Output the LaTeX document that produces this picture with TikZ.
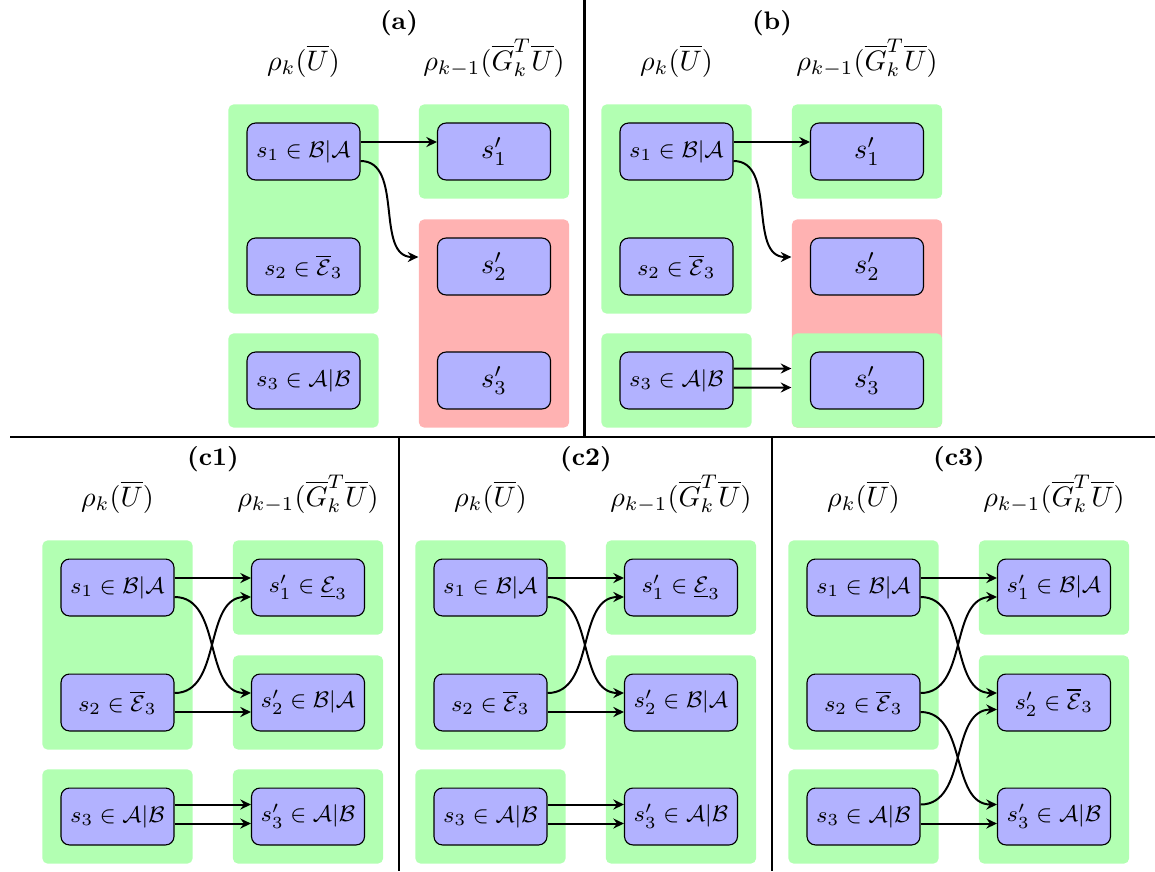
\documentclass[tikz,border=0pt]{standalone}
\usetikzlibrary{fit,backgrounds,calc,arrows.meta}
\tikzset{
  st/.style={draw=black, line width=0.4pt, fill=blue!30, rounded corners=3pt,
    minimum width=40.1pt, minimum height=20.2pt, inner sep=0pt,
    font=\fontsize{8}{10}\selectfont},
  stbig/.style={st, font=\fontsize{10}{12}\selectfont},
  grp/.style={fill=green!30, rounded corners=1.8pt, inner sep=6.4pt},
  bad/.style={fill=red!30, rounded corners=1.8pt, inner sep=6.4pt},
  arr/.style={-{Stealth[length=3.8pt,width=3.6pt,inset=1.3pt]}, line width=0.7pt},
  hdr/.style={anchor=base, font=\fontsize{10}{12}\selectfont},
  lbl/.style={anchor=base, font=\fontsize{9}{11}\selectfont\bfseries},
  sep/.style={line width=0.95pt}
}
\newcommand\Hl{$\rho_k(\overline{U})$}
\newcommand\Hr{$\rho_{k-1}(\overline{G}_k^T\overline{U})$}
\newcommand\SBA{$s_1\in\mathcal{B}|\mathcal{A}$}
\newcommand\SE{$s_2\in\overline{\mathcal{E}}_3$}
\newcommand\SAB{$s_3\in\mathcal{A}|\mathcal{B}$}
\begin{document}
\begin{tikzpicture}[x=0.355pt,y=-0.355pt]
\useasboundingbox (0,0) rectangle (1155,871);
\def\U{3.37pt}\def\D{-3.37pt}\def\UU{4.26pt}\def\DD{-2.49pt}

% ---------------- panel (a)
\begin{scope}
\node[lbl] (alab) at (399,29) {(a)};
\node[hdr] (ahl) at (303.5,70) {\Hl};
\node[hdr] (ahr) at (494,70) {\Hr};
\node[st] (as1) at (303.5,151.5) {\SBA};
\node[st] (as2) at (303.5,266.5) {\SE};
\node[st] (as3) at (303.5,380.5) {\SAB};
\node[stbig] (at1) at (494,151.5) {$s'_1$};
\node[stbig] (at2) at (494,266.5) {$s'_2$};
\node[stbig] (at3) at (494,380.5) {$s'_3$};
\begin{scope}[on background layer]
\node[grp, fit=(as1)(as2)] (ag12) {};
\node[grp, fit=(as3)] (ag3) {};
\node[grp, fit=(at1)] (agt1) {};
\node[bad, fit=(at2)(at3)] (ared) {};
\end{scope}
\draw[arr] ([yshift=\U]as1.east) -- ([yshift=\U]at1.west);
\draw[arr] ([yshift=\D]as1.east) to[out=0,in=180] ($(ared.west |- at2.west)+(0,-9.5)$);
\end{scope}

% ---------------- panel (b)
\begin{scope}[shift={(373,0)}]
\node[lbl] (blab) at (399,29) {(b)};
\node[hdr] (bhl) at (303.5,70) {\Hl};
\node[hdr] (bhr) at (494,70) {\Hr};
\node[st] (bs1) at (303.5,151.5) {\SBA};
\node[st] (bs2) at (303.5,266.5) {\SE};
\node[st] (bs3) at (303.5,380.5) {\SAB};
\node[stbig] (bt1) at (494,151.5) {$s'_1$};
\node[stbig] (bt2) at (494,266.5) {$s'_2$};
\node[stbig] (bt3) at (494,380.5) {$s'_3$};
\begin{scope}[on background layer]
\node[grp, fit=(bs1)(bs2)] (bg12) {};
\node[grp, fit=(bs3)] (bg3) {};
\node[grp, fit=(bt1)] (bgt1) {};
\node[bad, fit=(bt2)(bt3)] (bred) {};
\node[grp, fit=(bt3)] (bgt3) {};
\end{scope}
\draw[arr] ([yshift=\U]bs1.east) -- ([yshift=\U]bt1.west);
\draw[arr] ([yshift=\D]bs1.east) to[out=0,in=180] ($(bred.west |- bt2.west)+(0,-9.5)$);
\draw[arr] ([yshift=\UU]bs3.east) -- ($(bgt3.west |- bs3.east)+(0,-12)$);
\draw[arr] ([yshift=\DD]bs3.east) -- ($(bgt3.west |- bs3.east)+(0,7)$);
\end{scope}

% ---------------- panel (c1)
\begin{scope}[shift={(-186,436)}]
\node[lbl] (c1lab) at (399,29) {(c1)};
\node[hdr] (c1hl) at (303.5,70) {\Hl};
\node[hdr] (c1hr) at (494,70) {\Hr};
\node[st] (c1s1) at (303.5,151.5) {\SBA};
\node[st] (c1s2) at (303.5,266.5) {\SE};
\node[st] (c1s3) at (303.5,380.5) {\SAB};
\node[st] (c1t1) at (494,151.5) {$s'_1\in\underline{\mathcal{E}}_3$};
\node[st] (c1t2) at (494,266.5) {$s'_2\in\mathcal{B}|\mathcal{A}$};
\node[st] (c1t3) at (494,380.5) {$s'_3\in\mathcal{A}|\mathcal{B}$};
\begin{scope}[on background layer]
\node[grp, fit=(c1s1)(c1s2)] (c1g12) {};
\node[grp, fit=(c1s3)] (c1g3) {};
\node[grp, fit=(c1t1)] (c1gt1) {};
\node[grp, fit=(c1t2)] (c1gt2) {};
\node[grp, fit=(c1t3)] (c1gt3) {};
\end{scope}
\draw[arr] ([yshift=\U]c1s1.east) -- ([yshift=\U]c1t1.west);
\draw[arr] ([yshift=\D]c1s1.east) to[out=0,in=180] ([yshift=\U]c1t2.west);
\draw[arr] ([yshift=\U]c1s2.east) to[out=0,in=180] ([yshift=\D]c1t1.west);
\draw[arr] ([yshift=\D]c1s2.east) -- ([yshift=\D]c1t2.west);
\draw[arr] ([yshift=\UU]c1s3.east) -- ([yshift=\UU]c1t3.west);
\draw[arr] ([yshift=\DD]c1s3.east) -- ([yshift=\DD]c1t3.west);
\end{scope}

% ---------------- panel (c2)
\begin{scope}[shift={(187,436)}]
\node[lbl] (c2lab) at (399,29) {(c2)};
\node[hdr] (c2hl) at (303.5,70) {\Hl};
\node[hdr] (c2hr) at (494,70) {\Hr};
\node[st] (c2s1) at (303.5,151.5) {\SBA};
\node[st] (c2s2) at (303.5,266.5) {\SE};
\node[st] (c2s3) at (303.5,380.5) {\SAB};
\node[st] (c2t1) at (494,151.5) {$s'_1\in\underline{\mathcal{E}}_3$};
\node[st] (c2t2) at (494,266.5) {$s'_2\in\mathcal{B}|\mathcal{A}$};
\node[st] (c2t3) at (494,380.5) {$s'_3\in\mathcal{A}|\mathcal{B}$};
\begin{scope}[on background layer]
\node[grp, fit=(c2s1)(c2s2)] (c2g12) {};
\node[grp, fit=(c2s3)] (c2g3) {};
\node[grp, fit=(c2t1)] (c2gt1) {};
\node[grp, fit=(c2t2)(c2t3)] (c2gt23) {};
\end{scope}
\draw[arr] ([yshift=\U]c2s1.east) -- ([yshift=\U]c2t1.west);
\draw[arr] ([yshift=\D]c2s1.east) to[out=0,in=180] ([yshift=\U]c2t2.west);
\draw[arr] ([yshift=\U]c2s2.east) to[out=0,in=180] ([yshift=\D]c2t1.west);
\draw[arr] ([yshift=\D]c2s2.east) -- ([yshift=\D]c2t2.west);
\draw[arr] ([yshift=\UU]c2s3.east) -- ([yshift=\UU]c2t3.west);
\draw[arr] ([yshift=\DD]c2s3.east) -- ([yshift=\DD]c2t3.west);
\end{scope}

% ---------------- panel (c3)
\begin{scope}[shift={(560,436)}]
\node[lbl] (c3lab) at (399,29) {(c3)};
\node[hdr] (c3hl) at (303.5,70) {\Hl};
\node[hdr] (c3hr) at (494,70) {\Hr};
\node[st] (c3s1) at (303.5,151.5) {\SBA};
\node[st] (c3s2) at (303.5,266.5) {\SE};
\node[st] (c3s3) at (303.5,380.5) {\SAB};
\node[st] (c3t1) at (494,151.5) {$s'_1\in\mathcal{B}|\mathcal{A}$};
\node[st] (c3t2) at (494,266.5) {$s'_2\in\overline{\mathcal{E}}_3$};
\node[st] (c3t3) at (494,380.5) {$s'_3\in\mathcal{A}|\mathcal{B}$};
\begin{scope}[on background layer]
\node[grp, fit=(c3s1)(c3s2)] (c3g12) {};
\node[grp, fit=(c3s3)] (c3g3) {};
\node[grp, fit=(c3t1)] (c3gt1) {};
\node[grp, fit=(c3t2)(c3t3)] (c3gt23) {};
\end{scope}
\draw[arr] ([yshift=\U]c3s1.east) -- ([yshift=\U]c3t1.west);
\draw[arr] ([yshift=\D]c3s1.east) to[out=0,in=180] ([yshift=\U]c3t2.west);
\draw[arr] ([yshift=\U]c3s2.east) to[out=0,in=180] ([yshift=\D]c3t1.west);
\draw[arr] ([yshift=\D]c3s2.east) to[out=0,in=180] ([yshift=\UU]c3t3.west);
\draw[arr] ([yshift=\UU]c3s3.east) to[out=0,in=180] ([yshift=\DD]c3t2.west);
\draw[arr] ([yshift=\DD]c3s3.east) -- ([yshift=\DD]c3t3.west);
\end{scope}

% ---------------- separators
\coordinate (hl) at (10,437);
\coordinate (hr) at (1155,437);
\coordinate (vt) at (584.5,0);
\coordinate (vb) at (584.5,437);
\coordinate (v1t) at (399,437);
\coordinate (v1b) at (399,871);
\coordinate (v2t) at (772,437);
\coordinate (v2b) at (772,871);
\draw[sep] (hl) -- (hr);
\draw[sep] (vt) -- (vb);
\draw[sep] (v1t) -- (v1b);
\draw[sep] (v2t) -- (v2b);
\end{tikzpicture}
\end{document}
